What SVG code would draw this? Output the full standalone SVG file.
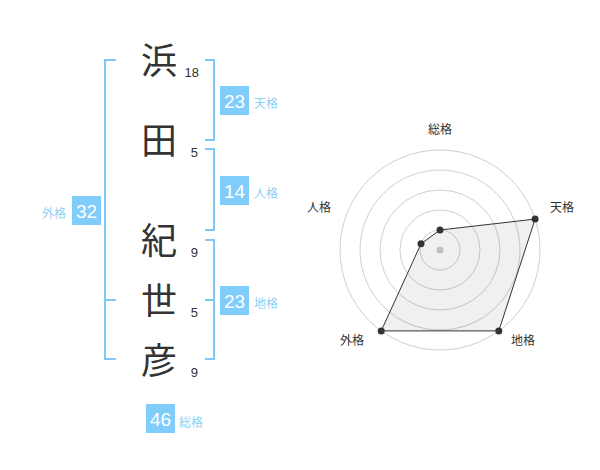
<svg xmlns="http://www.w3.org/2000/svg" width="600" height="470" viewBox="0 0 600 470">
<style>
.k{font-family:"Noto Sans CJK JP","Noto Sans CJK SC",sans-serif;font-size:36px;fill:#333;text-anchor:middle}
.n{font-family:"Liberation Sans",Arial,sans-serif;font-size:13px;fill:#333;text-anchor:end}
.br{fill:none;stroke:#80c9f6;stroke-width:2}
.bd{fill:#80ccfa}
.bt{font-family:"Liberation Sans",Arial,sans-serif;font-size:19px;fill:#fff;text-anchor:middle}
.bl{font-family:"Noto Sans CJK JP","Noto Sans CJK SC",sans-serif;font-size:12px;fill:#8fd0f6}
.ring{fill:none;stroke:#cfcfcf;stroke-width:1}
.rl{font-family:"Noto Sans CJK JP","Noto Sans CJK SC",sans-serif;font-size:12px;fill:#333;text-anchor:middle}
.dot{fill:#333}
</style>
<rect width="600" height="470" fill="#fff"/>
<g id="connectors">
<path class="br" d="M116,60 H105 V359 H116 M105,300 H116"/>
<path class="br" d="M205,60 H214 V140 H205"/>
<path class="br" d="M205,149 H214 V230 H205"/>
<path class="br" d="M205,240 H214 V359 H205 M214,300 H205"/>
</g>
<g id="char-1"><text class="k" x="159" y="74">浜</text><text class="n" x="199" y="77">18</text></g>
<g id="char-2"><text class="k" x="159" y="154">田</text><text class="n" x="198" y="157">5</text></g>
<g id="char-3"><text class="k" x="159" y="254">紀</text><text class="n" x="198" y="257">9</text></g>
<g id="char-4"><text class="k" x="159" y="314">世</text><text class="n" x="198" y="317">5</text></g>
<g id="char-5"><text class="k" x="159" y="374">彦</text><text class="n" x="198" y="377">9</text></g>
<g id="tenkaku"><rect class="bd" x="220" y="86" width="29" height="29"/><text class="bt" x="234.5" y="108">23</text><text class="bl" x="254" y="108">天格</text></g>
<g id="jinkaku"><rect class="bd" x="220" y="176" width="29" height="29"/><text class="bt" x="234.5" y="198">14</text><text class="bl" x="254" y="198">人格</text></g>
<g id="chikaku"><rect class="bd" x="220" y="286" width="29" height="29"/><text class="bt" x="234.5" y="308">23</text><text class="bl" x="254" y="308">地格</text></g>
<g id="gaikaku"><rect class="bd" x="72" y="196" width="29" height="29"/><text class="bt" x="86.5" y="218">32</text><text class="bl" x="66" y="218" text-anchor="end">外格</text></g>
<g id="soukaku"><rect class="bd" x="146" y="404" width="29" height="29"/><text class="bt" x="160.5" y="426">46</text><text class="bl" x="179" y="427">総格</text></g>
<g id="radar">
<circle class="ring" cx="440" cy="250" r="20"/>
<circle class="ring" cx="440" cy="250" r="40"/>
<circle class="ring" cx="440" cy="250" r="60"/>
<circle class="ring" cx="440" cy="250" r="80"/>
<circle class="ring" cx="440" cy="250" r="100"/>
<circle cx="440" cy="250" r="3.5" fill="#ccc"/>
<polygon points="440,230 535.1,219.1 498.8,330.9 381.2,330.9 421,243.8" fill="#000" fill-opacity="0.06" stroke="#333" stroke-width="1"/>
<circle class="dot" cx="440" cy="230" r="3.5"/>
<circle class="dot" cx="535.1" cy="219.1" r="3.5"/>
<circle class="dot" cx="498.8" cy="330.9" r="3.5"/>
<circle class="dot" cx="381.2" cy="330.9" r="3.5"/>
<circle class="dot" cx="421" cy="243.8" r="3.5"/>
<text class="rl" x="440" y="134">総格</text>
<text class="rl" x="562" y="212">天格</text>
<text class="rl" x="523" y="345">地格</text>
<text class="rl" x="352" y="345">外格</text>
<text class="rl" x="319" y="212">人格</text>
</g>
</svg>
